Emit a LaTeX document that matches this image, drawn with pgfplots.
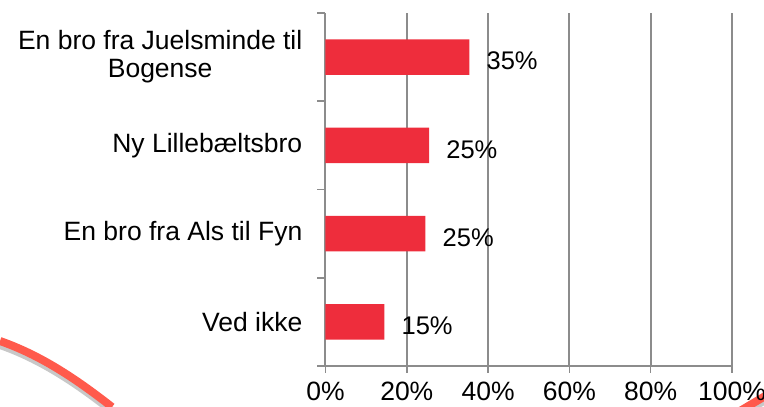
\documentclass[border=0pt]{standalone}
\usepackage{fontspec}
\setmainfont{Liberation Sans}
\usepackage{pgfplots}
\pgfplotsset{compat=1.18}
\definecolor{barred}{HTML}{EE2D3C}
\definecolor{gridgray}{HTML}{8C8C8C}
\definecolor{swoosh}{HTML}{FF5A4C}
\definecolor{shadow}{HTML}{C8C8C8}
\begin{document}
\begin{tikzpicture}[x=1pt,y=1pt]
\useasboundingbox (0,0) rectangle (764,407);
% decorative swoosh
\draw[shadow, line width=8pt] (0,62) .. controls (40,48) and (75,25) .. (112,-4);
\draw[swoosh, line width=8pt] (0,66) .. controls (40,52) and (75,29) .. (112,0);
\draw[shadow, line width=8pt] (740,-8) -- (777,14);
\draw[swoosh, line width=8pt] (740,-4) -- (777,18);
\begin{axis}[
  at={(325.5pt,41pt)}, anchor=south west,
  scale only axis, width=406.5pt, height=353pt,
  xbar, bar width=0.4,
  xmin=0, xmax=100, ymin=-0.5, ymax=3.5,
  axis x line*=bottom, axis y line*=left,
  axis line style={gridgray, line width=1.6pt},
  tick align=outside,
  major tick length=7pt,
  xtick={0,20,40,60,80,100},
  xticklabels={0\%,20\%,40\%,60\%,80\%,100\%},
  xmajorgrids, grid style={gridgray, line width=2pt},
  xtick style={gridgray, line width=1.6pt},
  ytick={0,1,2,3},
  yticklabels={Ved ikke, En bro fra Als til Fyn, Ny Lillebæltsbro, {En bro fra Juelsminde til\\Bogense}},
  ytick style={draw=none},
  extra y ticks={-0.5,0.5,1.5,2.5,3.5},
  extra y tick labels={},
  extra y tick style={ytick style={draw=gridgray, line width=1.6pt}, major tick length=8pt},
  tick label style={font=\fontsize{26.5}{28}\selectfont},
  yticklabel style={align=center, inner sep=0pt, xshift=-16pt},
  xticklabel style={inner sep=0pt, yshift=-9pt},
  /pgf/number format/assume math mode=true,
  point meta=explicit symbolic,
  nodes near coords,
  nodes near coords style={anchor=west, inner sep=0pt, xshift=17pt, yshift=-4pt, font=\fontsize{25.5}{28}\selectfont, black},
]
\addplot[fill=barred, draw=none] coordinates {
  (14.5,0) [15\%]
  (24.6,1) [25\%]
  (25.5,2) [25\%]
  (35.4,3) [35\%]
};
\end{axis}
\end{tikzpicture}
\end{document}
